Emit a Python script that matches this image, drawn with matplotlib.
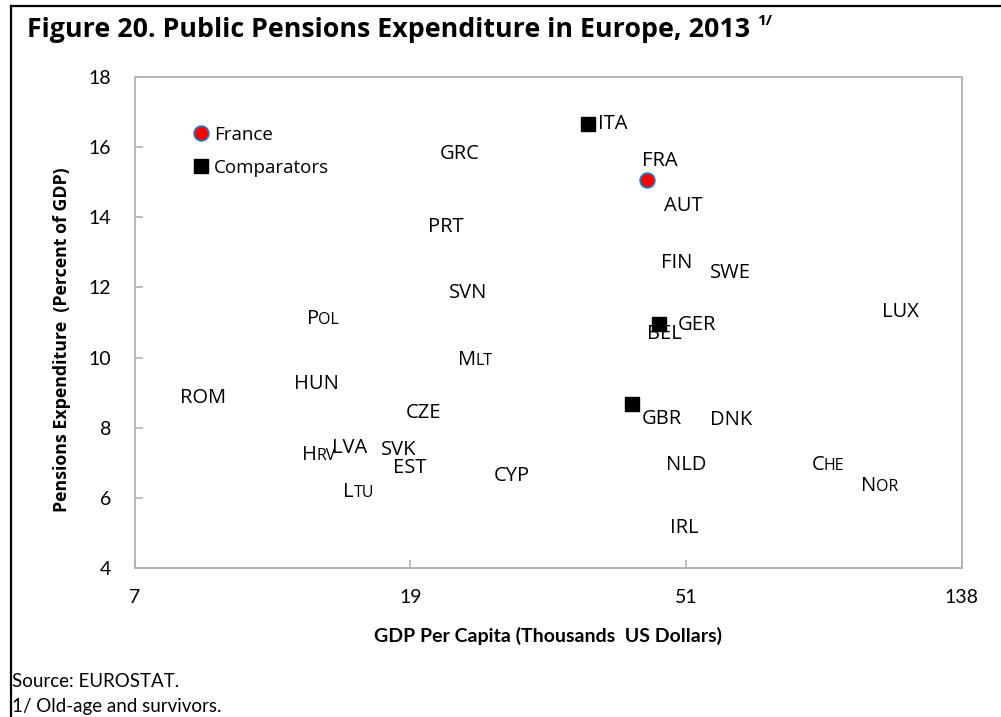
import numpy as np
import matplotlib
matplotlib.use("Agg")
import matplotlib.pyplot as plt
from matplotlib.lines import Line2D
from matplotlib.offsetbox import TextArea, HPacker, AnnotationBbox

# GDP per capita (thousands USD) and public pension spending (% of GDP), 2013
countries = ["ROM", "POL", "HUN", "HRV", "LVA", "LTU", "SVK", "EST", "CZE",
             "GRC", "PRT", "SVN", "MLT", "CYP", "AUT", "FIN", "SWE", "DNK",
             "BEL", "NLD", "IRL", "CHE", "NOR", "LUX"]
gdp = [8.96, 13.8, 13.5, 13.6, 15.2, 15.7, 18.1, 18.9, 19.8,
       22.6, 21.5, 23.3, 23.9, 27.3, 50.5, 49.3, 60.0, 60.0,
       47.2, 51.0, 50.7, 85.2, 102.7, 110.4]
pension = [8.84, 11.11, 9.26, 7.22, 7.41, 6.16, 7.36, 6.85, 8.41,
           15.81, 13.73, 11.83, 9.92, 6.62, 14.33, 12.71, 12.42, 8.21,
           10.66, 6.95, 5.14, 6.95, 6.33, 11.31]
small_caps = ["POL", "MLT", "HRV", "LTU", "CHE", "NOR"]

france_gdp = [44.3]
france_pension = [15.07]

comp_names = ["ITA", "GER", "GBR"]
comp_gdp = [35.9, 46.4, 42.0]
comp_pension = [16.66, 10.96, 8.67]

x_ticks = np.geomspace(7, 138, 4)
x_ticklabels = ["7", "19", "51", "138"]

label_font = "Open Sans"
narrow = ["Lato", "DejaVu Sans"]
grey = "#b4b4b4"

fig = plt.figure(figsize=(10.01, 7.17), dpi=100)
ax = fig.add_axes([0.1344, 0.2078, 0.8266, 0.6848])

ax.set_xscale("log")
ax.set_xlim(7, 138)
ax.set_ylim(4, 18)
ax.set_xticks(x_ticks)
ax.set_xticklabels(x_ticklabels)
ax.xaxis.set_minor_locator(matplotlib.ticker.NullLocator())
ax.set_yticks(range(4, 19, 2))
for lab in ax.get_xticklabels() + ax.get_yticklabels():
    lab.set_family(narrow)
    lab.set_fontsize(14)
ax.tick_params(axis="x", direction="in", length=6, width=1.2, color=grey, pad=15)
ax.tick_params(axis="y", direction="in", length=6, width=1.2, color=grey, pad=17)
for s in ax.spines.values():
    s.set_color(grey)
    s.set_linewidth(1.4)

ax.set_xlabel("GDP Per Capita (Thousands  US Dollars)", family=narrow,
              fontweight="bold", fontsize=14, labelpad=15)
ax.set_ylabel("Pensions Expenditure  (Percent of GDP)", family=label_font,
              fontweight="bold", fontsize=12.8)
ax.yaxis.set_label_coords(-0.0767, 0.466)


def country_label(name, x, y):
    if name in small_caps:
        big = TextArea(name[0], textprops=dict(family=label_font, fontsize=14.5))
        rest = TextArea(name[1:], textprops=dict(family=label_font, fontsize=11.5))
        box = HPacker(children=[big, rest], align="baseline", pad=0, sep=-0.3)
        ab = AnnotationBbox(box, (x, y), frameon=False, box_alignment=(0.5, 0.5),
                            pad=0)
        ax.add_artist(ab)
    else:
        ax.text(x, y, name, family=label_font, fontsize=14.5,
                ha="center", va="center")


for name, x, y in zip(countries, gdp, pension):
    country_label(name, x, y)

# highlighted markers
ax.plot(france_gdp, france_pension, "o", ms=10.5, mfc="#ff0000",
        mec="#2e75b6", mew=1.3)
ax.plot(comp_gdp, comp_pension, "s", ms=9.5, color="black")

ax.annotate("FRA", (france_gdp[0], france_pension[0]), xytext=(9.5, 13.5),
            textcoords="offset points", family=label_font, fontsize=14.5,
            ha="center", va="center")
comp_offsets = [(7, 0), (13, -1), (7, -10.5)]
for name, x, y, off in zip(comp_names, comp_gdp, comp_pension, comp_offsets):
    ax.annotate(name, (x, y), xytext=off, textcoords="offset points",
                family=label_font, fontsize=14.5, ha="left", va="center")

# legend
handles = [Line2D([], [], marker="o", ls="none", ms=10.5, mfc="#ff0000",
                  mec="#2e75b6", mew=1.3),
           Line2D([], [], marker="s", ls="none", ms=9.5, color="black")]
leg = ax.legend(handles, ["France", "Comparators"], loc="upper left",
                bbox_to_anchor=(0.0625, 0.916), frameon=False, handlelength=0.8,
                handletextpad=0.3, labelspacing=0.8, borderaxespad=0,
                prop=dict(family=label_font, size=13.5))

# title and notes
fig.text(0.027, 0.958, "Figure 20. Public Pensions Expenditure in Europe, 2013",
         family=label_font, fontweight="bold", fontsize=19.3, va="center")
fig.text(0.756, 0.971, "1/", family=label_font, fontweight="bold", fontsize=11,
         va="center")
fig.text(0.012, 0.049, "Source: EUROSTAT.", family=narrow, fontsize=13.5,
         va="center")
fig.text(0.012, 0.014, "1/ Old-age and survivors.", family=narrow, fontsize=13.5,
         va="center")

# outer frame
fig.add_artist(Line2D([0.011, 0.011], [0.0, 0.991], color="black", lw=1.6,
                      transform=fig.transFigure))
fig.add_artist(Line2D([0.011, 1.0], [0.991, 0.991], color="black", lw=1.6,
                      transform=fig.transFigure))

fig.savefig("out.png", dpi=100)
